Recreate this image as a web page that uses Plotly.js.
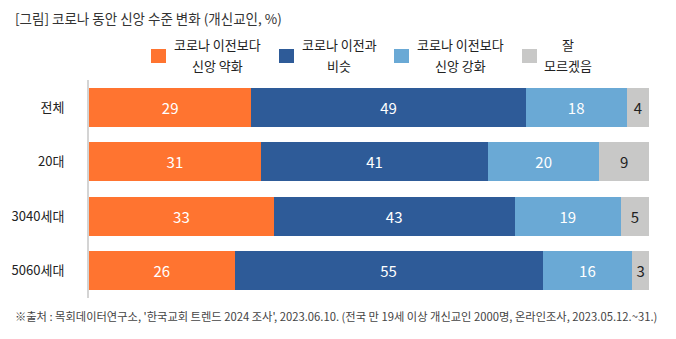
<!DOCTYPE html>
<html>
<head>
<meta charset="utf-8">
<script src="https://cdn.plot.ly/plotly-3.0.1.min.js"></script>
<style>html,body{margin:0;padding:0;background:#fff;}#chart{width:676px;height:339px;}</style>
</head>
<body>
<div id="chart"></div>
<script>
const categories = ["전체", "20대", "3040세대", "5060세대"];
const seriesNames = ["코로나 이전보다 신앙 약화", "코로나 이전과 비슷", "코로나 이전보다 신앙 강화", "잘 모르겠음"];
const legendLine1 = ["코로나 이전보다", "코로나 이전과", "코로나 이전보다", "잘"];
const legendLine2 = ["신앙 약화", "비슷", "신앙 강화", "모르겠음"];
const weakened = [29, 31, 33, 26];
const same = [49, 41, 43, 55];
const strengthened = [18, 20, 19, 16];
const unsure = [4, 9, 5, 3];
const colors = ["#FF7430", "#2E5B98", "#6AA9D5", "#C8C8C7"];
const textColors = ["#ffffff", "#ffffff", "#ffffff", "#222222"];
const titleText = "[그림] 코로나 동안 신앙 수준 변화 (개신교인, %)";
const sourceText = "※출처 : 목회데이터연구소, '한국교회 트렌드 2024 조사', 2023.06.10. (전국 만 19세 이상 개신교인 2000명, 온라인조사, 2023.05.12.~31.)";

const FONT = "'Noto Sans CJK KR', 'Noto Sans', sans-serif";
const allSeries = [weakened, same, strengthened, unsure];

const data = allSeries.map((vals, i) => ({
  type: "bar",
  orientation: "h",
  y: categories,
  x: vals,
  name: seriesNames[i],
  marker: {color: colors[i], line: {width: 0}},
  text: vals.map(String),
  textposition: "inside",
  insidetextanchor: "middle",
  constraintext: "none",
  textfont: {color: textColors[i], size: 15, family: FONT},
  hoverinfo: "x+y",
  showlegend: false
}));

// manual legend (paper coords)
const legendSquareX = [151, 279, 394, 522];
const legendTextX = [217, 339, 460, 568];
const W = 676, H = 339;
const ml = 89, mr = 27, mt = 80, mb = 41;
const pw = W - ml - mr, ph = H - mt - mb;
function px(x) { return (x - ml) / pw; }
function py(y) { return (H - mb - y) / ph; }

const shapes = legendSquareX.map((x, i) => ({
  type: "rect", xref: "paper", yref: "paper",
  x0: px(x), x1: px(x + 15), y0: py(63), y1: py(49),
  fillcolor: colors[i], line: {width: 0}
}));

const annotations = [];
legendTextX.forEach((x, i) => {
  annotations.push({
    xref: "paper", yref: "paper",
    x: px(x), y: py(45), xanchor: "center", yanchor: "middle",
    text: legendLine1[i], showarrow: false,
    font: {family: FONT, size: 13, color: "#222"}
  });
  annotations.push({
    xref: "paper", yref: "paper",
    x: px(x), y: py(66), xanchor: "center", yanchor: "middle",
    text: legendLine2[i], showarrow: false,
    font: {family: FONT, size: 13, color: "#222"}
  });
});

annotations.push({
  xref: "paper", yref: "paper",
  x: px(13), y: py(18), xanchor: "left", yanchor: "middle",
  text: titleText, showarrow: false,
  font: {family: FONT, size: 13.5, color: "#333"}
});
annotations.push({
  xref: "paper", yref: "paper",
  x: px(13), y: py(316), xanchor: "left", yanchor: "middle",
  text: sourceText, showarrow: false,
  font: {family: FONT, size: 11.25, color: "#444"}
});

const layout = {
  width: W, height: H,
  margin: {l: ml, r: mr, t: mt, b: mb, pad: 0},
  barmode: "stack",
  barnorm: "percent",
  bargap: 0.29,
  paper_bgcolor: "#fff",
  plot_bgcolor: "#fff",
  showlegend: false,
  font: {family: FONT, size: 13, color: "#222"},
  xaxis: {range: [0, 100], visible: false, fixedrange: true},
  yaxis: {
    autorange: "reversed",
    showline: true, linecolor: "#d4d4d4", linewidth: 2,
    ticks: "", showgrid: false, zeroline: false,
    tickfont: {family: FONT, size: 13, color: "#222"},
    ticklabelstandoff: 20,
    automargin: false
  },
  shapes: shapes,
  annotations: annotations
};

Plotly.newPlot("chart", data, layout, {displayModeBar: false, staticPlot: true});
</script>
</body>
</html>
